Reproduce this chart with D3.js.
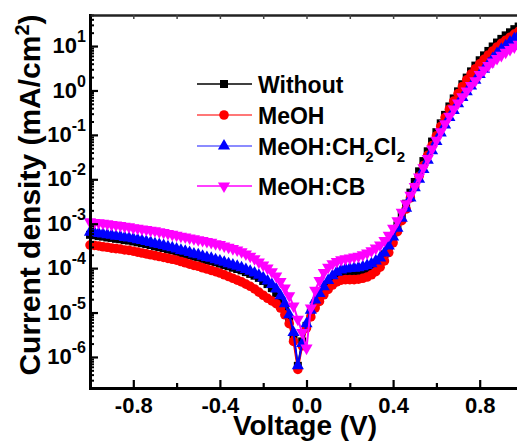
<!DOCTYPE html>
<html>
<head>
<meta charset="utf-8">
<script src="https://cdn.jsdelivr.net/npm/d3@7"></script>
<style>
  body { margin: 0; background: #fff; }
  svg text { font-family: "Liberation Sans", Arial, sans-serif; font-weight: bold; fill: #000; }
</style>
</head>
<body>
<svg id="chart" width="517" height="444"></svg>
<script>
// sweep voltage (V)
var voltage = [
  -1, -0.98, -0.96, -0.94, -0.92, -0.9, -0.88, -0.86, -0.84, -0.82,
  -0.8, -0.78, -0.76, -0.74, -0.72, -0.7, -0.68, -0.66, -0.64, -0.62,
  -0.6, -0.58, -0.56, -0.54, -0.52, -0.5, -0.48, -0.46, -0.44, -0.42,
  -0.4, -0.38, -0.36, -0.34, -0.32, -0.3, -0.28, -0.26, -0.24, -0.22,
  -0.2, -0.18, -0.16, -0.14, -0.12, -0.1, -0.08, -0.06, -0.04, -0.02,
  0, 0.02, 0.04, 0.06, 0.08, 0.1, 0.12, 0.14, 0.16, 0.18,
  0.2, 0.22, 0.24, 0.26, 0.28, 0.3, 0.32, 0.34, 0.36, 0.38,
  0.4, 0.42, 0.44, 0.46, 0.48, 0.5, 0.52, 0.54, 0.56, 0.58,
  0.6, 0.62, 0.64, 0.66, 0.68, 0.7, 0.72, 0.74, 0.76, 0.78,
  0.8, 0.82, 0.84, 0.86, 0.88, 0.9, 0.92, 0.94, 0.96, 0.98,
  1
];

// current density (mA/cm2)
var jWithout = [
  5.62e-4, 5.50e-4, 5.25e-4, 5.13e-4, 4.90e-4, 4.79e-4, 4.57e-4, 4.47e-4, 4.27e-4, 4.17e-4,
  3.98e-4, 3.80e-4, 3.63e-4, 3.47e-4, 3.31e-4, 3.09e-4, 2.95e-4, 2.82e-4, 2.63e-4, 2.51e-4,
  2.34e-4, 2.19e-4, 2.09e-4, 1.95e-4, 1.82e-4, 1.74e-4, 1.62e-4, 1.51e-4, 1.45e-4, 1.35e-4,
  1.26e-4, 1.17e-4, 1.10e-4, 1.02e-4, 9.55e-5, 8.91e-5, 8.13e-5, 7.41e-5, 6.76e-5, 6.03e-5,
  5.13e-5, 4.37e-5, 3.55e-5, 2.75e-5, 1.91e-5, 1.20e-5, 6.61e-6, 2.82e-6, 6.31e-7, 2.24e-6,
  5.01e-6, 1.00e-5, 1.58e-5, 2.24e-5, 3.16e-5, 4.17e-5, 5.25e-5, 6.31e-5, 6.92e-5, 7.24e-5,
  7.41e-5, 7.59e-5, 7.76e-5, 8.13e-5, 8.71e-5, 9.77e-5, 1.15e-4, 1.45e-4, 2.04e-4, 3.16e-4,
  5.25e-4, 9.12e-4, 1.58e-3, 2.82e-3, 5.01e-3, 8.71e-3, 1.51e-2, 2.57e-2, 4.27e-2, 7.08e-2,
  0.115, 0.182, 0.282, 0.437, 0.661, 0.955, 1.38, 1.95, 2.69, 3.63,
  4.79, 6.17, 7.76, 9.77, 12.0, 14.5, 17.4, 20.4, 24.0, 27.5,
  31.6
];
var jMeOH = [
  3.31e-4, 3.24e-4, 3.16e-4, 3.02e-4, 2.95e-4, 2.82e-4, 2.75e-4, 2.69e-4, 2.57e-4, 2.51e-4,
  2.40e-4, 2.29e-4, 2.19e-4, 2.09e-4, 2.00e-4, 1.91e-4, 1.82e-4, 1.74e-4, 1.66e-4, 1.58e-4,
  1.51e-4, 1.41e-4, 1.32e-4, 1.23e-4, 1.15e-4, 1.10e-4, 1.02e-4, 9.55e-5, 8.91e-5, 8.32e-5,
  7.76e-5, 7.08e-5, 6.46e-5, 5.89e-5, 5.37e-5, 4.90e-5, 4.37e-5, 3.89e-5, 3.39e-5, 2.88e-5,
  2.45e-5, 2.09e-5, 1.82e-5, 1.58e-5, 1.26e-5, 8.91e-6, 5.62e-6, 2.24e-6, 5.25e-7, 1.78e-6,
  4.47e-6, 7.94e-6, 1.26e-5, 1.78e-5, 2.51e-5, 3.31e-5, 4.17e-5, 4.90e-5, 5.37e-5, 5.50e-5,
  5.50e-5, 5.50e-5, 5.62e-5, 5.89e-5, 6.31e-5, 7.08e-5, 8.32e-5, 1.05e-4, 1.45e-4, 2.24e-4,
  3.72e-4, 6.61e-4, 1.17e-3, 2.14e-3, 3.80e-3, 6.76e-3, 1.17e-2, 2.04e-2, 3.47e-2, 5.75e-2,
  9.55e-2, 0.155, 0.245, 0.380, 0.575, 0.851, 1.23, 1.74, 2.34, 3.09,
  3.98, 5.01, 6.31, 7.76, 9.55, 11.5, 13.5, 15.8, 18.6, 21.4,
  24.5
];
var jMeOHCH2Cl2 = [
  6.46e-4, 6.31e-4, 6.03e-4, 5.89e-4, 5.62e-4, 5.50e-4, 5.25e-4, 5.13e-4, 4.90e-4, 4.79e-4,
  4.57e-4, 4.37e-4, 4.17e-4, 3.98e-4, 3.80e-4, 3.55e-4, 3.39e-4, 3.24e-4, 3.02e-4, 2.88e-4,
  2.69e-4, 2.51e-4, 2.40e-4, 2.24e-4, 2.09e-4, 2.00e-4, 1.86e-4, 1.74e-4, 1.66e-4, 1.55e-4,
  1.45e-4, 1.35e-4, 1.26e-4, 1.17e-4, 1.10e-4, 1.02e-4, 9.33e-5, 8.51e-5, 7.76e-5, 6.92e-5,
  6.03e-5, 5.13e-5, 4.27e-5, 3.39e-5, 2.40e-5, 1.58e-5, 8.91e-6, 3.55e-6, 6.31e-7, 2.00e-6,
  5.62e-6, 1.12e-5, 1.91e-5, 2.69e-5, 3.80e-5, 5.25e-5, 6.76e-5, 8.13e-5, 9.12e-5, 9.55e-5,
  9.77e-5, 1.00e-4, 1.02e-4, 1.07e-4, 1.15e-4, 1.26e-4, 1.45e-4, 1.70e-4, 2.19e-4, 3.16e-4,
  5.01e-4, 7.94e-4, 1.32e-3, 2.24e-3, 3.80e-3, 6.46e-3, 1.00e-2, 1.66e-2, 2.69e-2, 4.37e-2,
  7.08e-2, 0.110, 0.166, 0.245, 0.355, 0.501, 0.692, 0.933, 1.26, 1.70,
  2.29, 3.02, 3.98, 5.25, 6.76, 8.51, 10.2, 12.3, 14.5, 17.4,
  20.0
];
var jMeOHCB = [
  1.10e-3, 1.07e-3, 1.05e-3, 1.02e-3, 1.00e-3, 9.55e-4, 9.33e-4, 9.12e-4, 8.71e-4, 8.51e-4,
  8.13e-4, 7.94e-4, 7.59e-4, 7.41e-4, 7.08e-4, 6.92e-4, 6.61e-4, 6.31e-4, 6.03e-4, 5.75e-4,
  5.50e-4, 5.25e-4, 5.01e-4, 4.79e-4, 4.57e-4, 4.37e-4, 4.17e-4, 3.98e-4, 3.80e-4, 3.55e-4,
  3.39e-4, 3.16e-4, 2.95e-4, 2.75e-4, 2.57e-4, 2.34e-4, 2.09e-4, 1.86e-4, 1.62e-4, 1.38e-4,
  1.17e-4, 1.00e-4, 8.32e-5, 6.61e-5, 5.01e-5, 3.55e-5, 2.40e-5, 1.41e-5, 7.08e-6, 3.55e-6,
  1.58e-6, 1.26e-5, 3.16e-5, 5.25e-5, 7.94e-5, 1.05e-4, 1.26e-4, 1.41e-4, 1.55e-4, 1.62e-4,
  1.70e-4, 1.78e-4, 1.86e-4, 2.00e-4, 2.19e-4, 2.45e-4, 2.82e-4, 3.31e-4, 4.17e-4, 5.50e-4,
  7.94e-4, 1.17e-3, 1.82e-3, 2.82e-3, 4.37e-3, 6.92e-3, 1.12e-2, 1.82e-2, 2.95e-2, 4.79e-2,
  7.59e-2, 0.117, 0.178, 0.263, 0.380, 0.525, 0.724, 0.977, 1.29, 1.66,
  2.29, 2.88, 3.63, 4.37, 5.25, 6.17, 7.24, 8.32, 9.55, 11.0,
  12.3
];

var xTicks = [-0.8, -0.4, 0.0, 0.4, 0.8];
var xMinorTicks = [-0.6, -0.2, 0.2, 0.6];
var yTicks = [1e1, 1e0, 1e-1, 1e-2, 1e-3, 1e-4, 1e-5, 1e-6];
var yTickExps = ["1", "0", "-1", "-2", "-3", "-4", "-5", "-6"];

var svg = d3.select("#chart");

var plotLeft = 90, plotRight = 523, plotTop = 15, plotBottom = 388;

var x = d3.scaleLinear().domain([-1, 1]).range([plotLeft, plotRight]);
var y = d3.scaleLog().domain([2e-7, 50]).range([plotBottom, plotTop]);

// data series, drawn in this order
var series = [
  { label: [["Without"]], values: jWithout, color: "#000000", line: "#000000", symbol: d3.symbolSquare, size: 64, rot: 0 },
  { label: [["MeOH"]], values: jMeOH, color: "#ff0000", line: "#ff4a4a", symbol: d3.symbolCircle, size: 72, rot: 0 },
  { label: [["MeOH:CH"], ["2", "sub"], ["Cl"], ["2", "sub"]], values: jMeOHCH2Cl2, color: "#0000ff", line: "#6464ff", symbol: d3.symbolTriangle, size: 64, rot: 0 },
  { label: [["MeOH:CB"]], values: jMeOHCB, color: "#ff00ff", line: "#ff00ff", symbol: d3.symbolTriangle, size: 64, rot: 180 }
];

var line = d3.line()
  .x(function(d, i) { return x(voltage[i]); })
  .y(function(d) { return y(d); });

var plot = svg.append("g");

series.forEach(function(s) {
  plot.append("path")
    .attr("d", line(s.values))
    .attr("fill", "none")
    .attr("stroke", s.color)
    .attr("stroke-width", 2);

  plot.append("g").selectAll("path")
    .data(s.values)
    .enter().append("path")
    .attr("d", d3.symbol().type(s.symbol).size(s.size))
    .attr("transform", function(d, i) {
      return "translate(" + x(voltage[i]) + "," + y(d) + ") rotate(" + s.rot + ")";
    })
    .attr("fill", s.color);
});

// axes
function styleAxis(g, width) {
  g.select(".domain").attr("stroke-width", width).attr("stroke-linecap", "square");
  g.selectAll(".tick line").attr("stroke-width", 2.2);
}

var yMinor = y.ticks().filter(function(d) {
  var m = d / Math.pow(10, Math.floor(Math.log10(d) + 1e-9));
  return Math.round(m) !== 1;
});

svg.append("g")
  .attr("transform", "translate(" + plotLeft + ",0)")
  .call(d3.axisLeft(y).tickValues(yMinor).tickSize(-4).tickSizeOuter(0).tickFormat(""))
  .call(function(g) { g.select(".domain").remove(); g.selectAll(".tick line").attr("stroke-width", 2); });

var gy = svg.append("g")
  .attr("transform", "translate(" + plotLeft + ",0)")
  .call(d3.axisLeft(y).tickValues(yTicks).tickSize(-8).tickSizeOuter(0).tickPadding(4).tickFormat(""))
  .call(styleAxis, 3);

gy.selectAll(".tick text")
  .attr("font-size", 22)
  .attr("dy", "0.3em")
  .each(function(d, i) {
    var t = d3.select(this);
    t.append("tspan").text("10");
    t.append("tspan").attr("font-size", 16).attr("dy", -11).text(yTickExps[i]);
  });

svg.append("g")
  .attr("transform", "translate(0," + plotBottom + ")")
  .call(d3.axisBottom(x).tickValues(xMinorTicks).tickSize(-5).tickSizeOuter(0).tickFormat(""))
  .call(function(g) { g.select(".domain").remove(); g.selectAll(".tick line").attr("stroke-width", 2.2); });

svg.append("g")
  .attr("transform", "translate(0," + plotBottom + ")")
  .call(d3.axisBottom(x).tickValues(xTicks).tickSize(-8).tickSizeOuter(0).tickPadding(9)
    .tickFormat(function(d) { return d.toFixed(1); }))
  .call(styleAxis, 3)
  .selectAll("text").attr("font-size", 22);

svg.append("g")
  .attr("transform", "translate(0," + plotTop + ")")
  .call(d3.axisTop(x).tickValues(xTicks.concat(xMinorTicks)).tickSize(-4).tickSizeOuter(0).tickFormat(""))
  .call(function(g) {
    g.select(".domain").attr("stroke-width", 2.5).attr("stroke", "#222");
    g.selectAll(".tick line").attr("stroke-width", 1.5).attr("stroke", "#444");
  });

// axis titles
svg.append("text")
  .attr("x", 305)
  .attr("y", 435)
  .attr("text-anchor", "middle")
  .attr("font-size", 28)
  .text("Voltage (V)");

var yt = svg.append("text")
  .attr("transform", "translate(40,195) rotate(-90)")
  .attr("text-anchor", "middle")
  .attr("font-size", 30);
yt.append("tspan").text("Current density (mA/cm");
yt.append("tspan").attr("font-size", 20).attr("dy", -11).text("2");
yt.append("tspan").attr("dy", 11).text(")");

// legend
var legendRows = [84, 115, 146, 186];
var legend = svg.append("g");

series.forEach(function(s, i) {
  var ry = legendRows[i];
  legend.append("line")
    .attr("x1", 197).attr("x2", 252)
    .attr("y1", ry).attr("y2", ry)
    .attr("stroke", s.line)
    .attr("stroke-width", 1.5);
  legend.append("path")
    .attr("d", d3.symbol().type(s.symbol).size(s.size))
    .attr("transform", "translate(224," + ry + ") rotate(" + s.rot + ")")
    .attr("fill", s.color);
  var t = legend.append("text")
    .attr("x", 258)
    .attr("y", ry + 9)
    .attr("font-size", 23);
  s.label.forEach(function(p) {
    if (p[1] === "sub") {
      t.append("tspan").attr("font-size", 15).attr("dy", 7).text(p[0]);
    } else {
      var sp = t.append("tspan").text(p[0]);
      if (t.selectAll("tspan").size() > 1) sp.attr("dy", -7);
    }
  });
});
</script>
</body>
</html>
